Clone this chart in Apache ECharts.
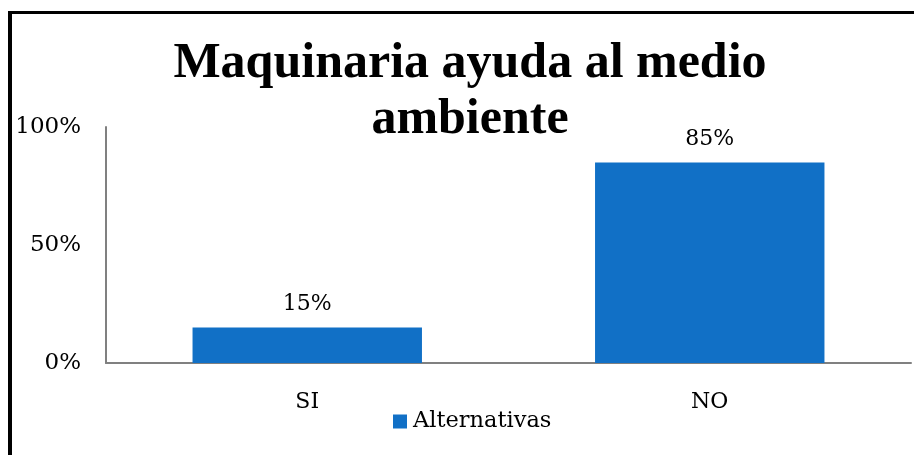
<!DOCTYPE html>
<html>
<head>
<meta charset="utf-8">
<script src="https://cdn.jsdelivr.net/npm/echarts@6/dist/echarts.min.js"></script>
<style>
  html, body { margin: 0; padding: 0; background: #fff; }
  #wrap { position: relative; width: 914px; height: 455px; overflow: hidden; }
  #frame {
    position: absolute; left: 8px; top: 11px; right: -10px; bottom: -10px;
    border-left: 4px solid #000; border-top: 3px solid #000;
  }
  #chart { position: absolute; left: 0; top: 0; width: 914px; height: 455px; }
</style>
</head>
<body>
<div id="wrap">
  <div id="frame"></div>
  <div id="chart"></div>
</div>
<script>
// datos
const categories = ['SI', 'NO']
const valores = [0.15, 0.85]
const serieNombre = 'Alternativas'
const titulo = 'Maquinaria ayuda al medio\nambiente'

const fuenteTitulo = '"Liberation Serif", serif'
const fuente = '"DejaVu Serif", serif'

const chart = echarts.init(document.getElementById('chart'))
chart.setOption({
  animation: false,
  title: {
    text: titulo,
    left: 470,
    top: 36,
    textAlign: 'center',
    padding: 0,
    textStyle: {
      fontFamily: fuenteTitulo,
      fontWeight: 'bold',
      fontSize: 50,
      lineHeight: 56,
      color: '#000'
    }
  },
  legend: {
    data: [serieNombre],
    left: 393,
    top: 410,
    padding: 0,
    itemWidth: 14,
    itemHeight: 14,
    itemGap: 6,
    icon: 'rect',
    textStyle: { fontFamily: fuente, fontSize: 22.5, color: '#000', padding: [0, 0, 0, 1] }
  },
  grid: { left: 106, right: 3, top: 127, bottom: 92, containLabel: false },
  xAxis: {
    type: 'category',
    data: categories,
    axisLine: { lineStyle: { color: '#808080', width: 2 } },
    axisTick: { show: false },
    axisLabel: { fontFamily: fuente, fontSize: 22, color: '#000', margin: 28 }
  },
  yAxis: {
    type: 'value',
    min: 0,
    max: 1,
    interval: 0.5,
    axisLine: { show: true, lineStyle: { color: '#808080', width: 2 } },
    axisTick: { show: false },
    splitLine: { show: false },
    axisLabel: {
      fontFamily: fuente, fontSize: 23, color: '#000', margin: 25,
      formatter: v => Math.round(v * 100) + '%'
    }
  },
  series: [{
    name: serieNombre,
    type: 'bar',
    data: valores,
    barWidth: '57%',
    itemStyle: { color: '#1170c6' },
    label: {
      show: true,
      position: 'top',
      distance: 12,
      fontFamily: fuente,
      fontSize: 22,
      color: '#000',
      formatter: p => Math.round(p.value * 100) + '%'
    }
  }]
})
</script>
</body>
</html>
